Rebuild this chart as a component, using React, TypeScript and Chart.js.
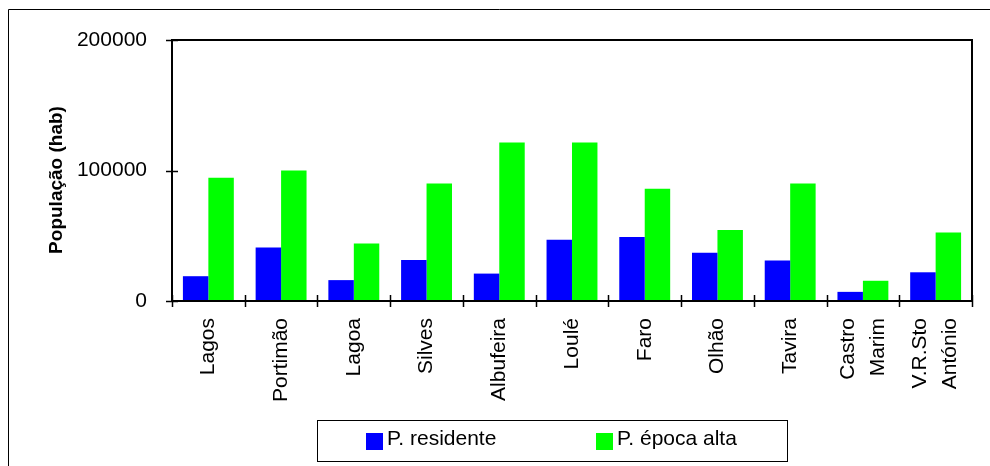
import React, { useEffect, useRef } from "react";
import { Chart, registerables } from "chart.js";

Chart.register(...registerables);

const categories: (string | string[])[] = [
  "Lagos",
  "Portimão",
  "Lagoa",
  "Silves",
  "Albufeira",
  "Loulé",
  "Faro",
  "Olhão",
  "Tavira",
  ["Castro", "Marim"],
  ["V.R.Sto", "António"],
];
const residentLabel = "P. residente";
const peakLabel = "P. época alta";
const residentValues = [19000, 41000, 16000, 31500, 21000, 47000, 49000, 37000, 31000, 7000, 22000];
const peakValues = [94500, 100000, 44000, 90000, 121500, 121500, 86000, 54500, 90000, 15500, 52500];
const yTickValues = [0, 100000, 200000];
const yTitle = "População (hab)";

const FONT = "'Liberation Sans', Arial, sans-serif";

const decor = {
  id: "decor",
  afterDatasetsDraw(chart: any) {
    const ctx = chart.ctx as CanvasRenderingContext2D;
    const { left, right, top, bottom } = chart.chartArea;
    const xs = chart.scales.x;
    const ys = chart.scales.y;
    ctx.save();
    ctx.strokeStyle = "#000";
    ctx.lineWidth = 1;
    ctx.beginPath();
    ctx.moveTo(8.5, 470);
    ctx.lineTo(8.5, 9.5);
    ctx.lineTo(995, 9.5);
    ctx.stroke();
    ctx.lineWidth = 2;
    ctx.strokeRect(left, top, right - left, bottom - top);
    ctx.lineWidth = 1.5;
    ctx.beginPath();
    yTickValues.forEach((v) => {
      const y = Math.round(ys.getPixelForValue(v)) + 0.5;
      ctx.moveTo(left - 6, y);
      ctx.lineTo(left + 6, y);
    });
    const n = categories.length;
    for (let i = 0; i <= n; i++) {
      const x = Math.round(left + ((right - left) * i) / n) + 0.5;
      ctx.moveTo(x, bottom - 6);
      ctx.lineTo(x, bottom + 6);
    }
    ctx.stroke();

    // x category labels (rotated, multi-line centred)
    ctx.fillStyle = "#000";
    ctx.font = `21px ${FONT}`;
    ctx.textAlign = "right";
    ctx.textBaseline = "middle";
    categories.forEach((c, i) => {
      const lines = Array.isArray(c) ? c : [c];
      const cx = xs.getPixelForValue(i);
      lines.forEach((ln, j) => {
        const x = cx + (j - (lines.length - 1) / 2) * 30;
        ctx.save();
        ctx.translate(x, bottom + 17);
        ctx.rotate(-Math.PI / 2);
        ctx.fillText(ln, 0, 0);
        ctx.restore();
      });
    });

    ctx.font = `bold 19px ${FONT}`;
    ctx.textAlign = "center";
    ctx.textBaseline = "middle";
    ctx.translate(57, 180);
    ctx.rotate(-Math.PI / 2);
    ctx.fillText(yTitle, 0, 0);
    ctx.restore();

    ctx.save();
    ctx.strokeStyle = "#000";
    ctx.lineWidth = 1;
    ctx.strokeRect(317.5, 420.5, 470, 41);
    const items = [
      { x: 366, color: "#0000FF", label: chart.data.datasets[0].label },
      { x: 596, color: "#00FF00", label: chart.data.datasets[1].label },
    ];
    ctx.font = `21px ${FONT}`;
    ctx.textAlign = "left";
    ctx.textBaseline = "alphabetic";
    items.forEach((it) => {
      ctx.fillStyle = it.color;
      ctx.fillRect(it.x, 433, 17, 17);
      ctx.fillStyle = "#000";
      ctx.fillText(it.label, it.x + 21, 445);
    });
    ctx.restore();
  },
};

export default function App() {
  const ref = useRef<HTMLCanvasElement>(null);
  useEffect(() => {
    if (!ref.current) return;
    const chart = new Chart(ref.current, {
      type: "bar",
      data: {
        labels: categories,
        datasets: [
          {
            label: residentLabel,
            data: residentValues,
            backgroundColor: "#0000FF",
            borderWidth: 0,
            categoryPercentage: 0.7,
            barPercentage: 1.0,
          },
          {
            label: peakLabel,
            data: peakValues,
            backgroundColor: "#00FF00",
            borderWidth: 0,
            categoryPercentage: 0.7,
            barPercentage: 1.0,
          },
        ],
      },
      options: {
        animation: false,
        responsive: false,
        events: [],
        layout: { padding: { left: 0, top: 40, right: 18, bottom: 0 } },
        plugins: { legend: { display: false }, tooltip: { enabled: false }, title: { display: false } },
        scales: {
          x: {
            grid: { display: false },
            border: { display: false },
            ticks: { display: false },
            afterFit: (s: any) => {
              s.height = 165;
              s.paddingLeft = 0;
              s.paddingRight = 0;
            },
          },
          y: {
            min: 0,
            max: 200000,
            grid: { display: false },
            border: { display: false },
            afterBuildTicks: (s: any) => {
              s.ticks = yTickValues.map((v) => ({ value: v }));
            },
            ticks: {
              color: "#000",
              font: { family: FONT, size: 21 },
              padding: 17,
              callback: (v: any) => String(v),
            },
            afterFit: (s: any) => {
              s.width = 172;
              s.paddingTop = 0;
              s.paddingBottom = 0;
            },
          },
        },
      },
      plugins: [decor],
    });
    return () => chart.destroy();
  }, []);
  return (
    <div style={{ position: "fixed", left: 0, top: 0, width: 990, height: 466, background: "#fff" }}>
      <canvas ref={ref} width={990} height={466} style={{ display: "block" }} />
    </div>
  );
}
